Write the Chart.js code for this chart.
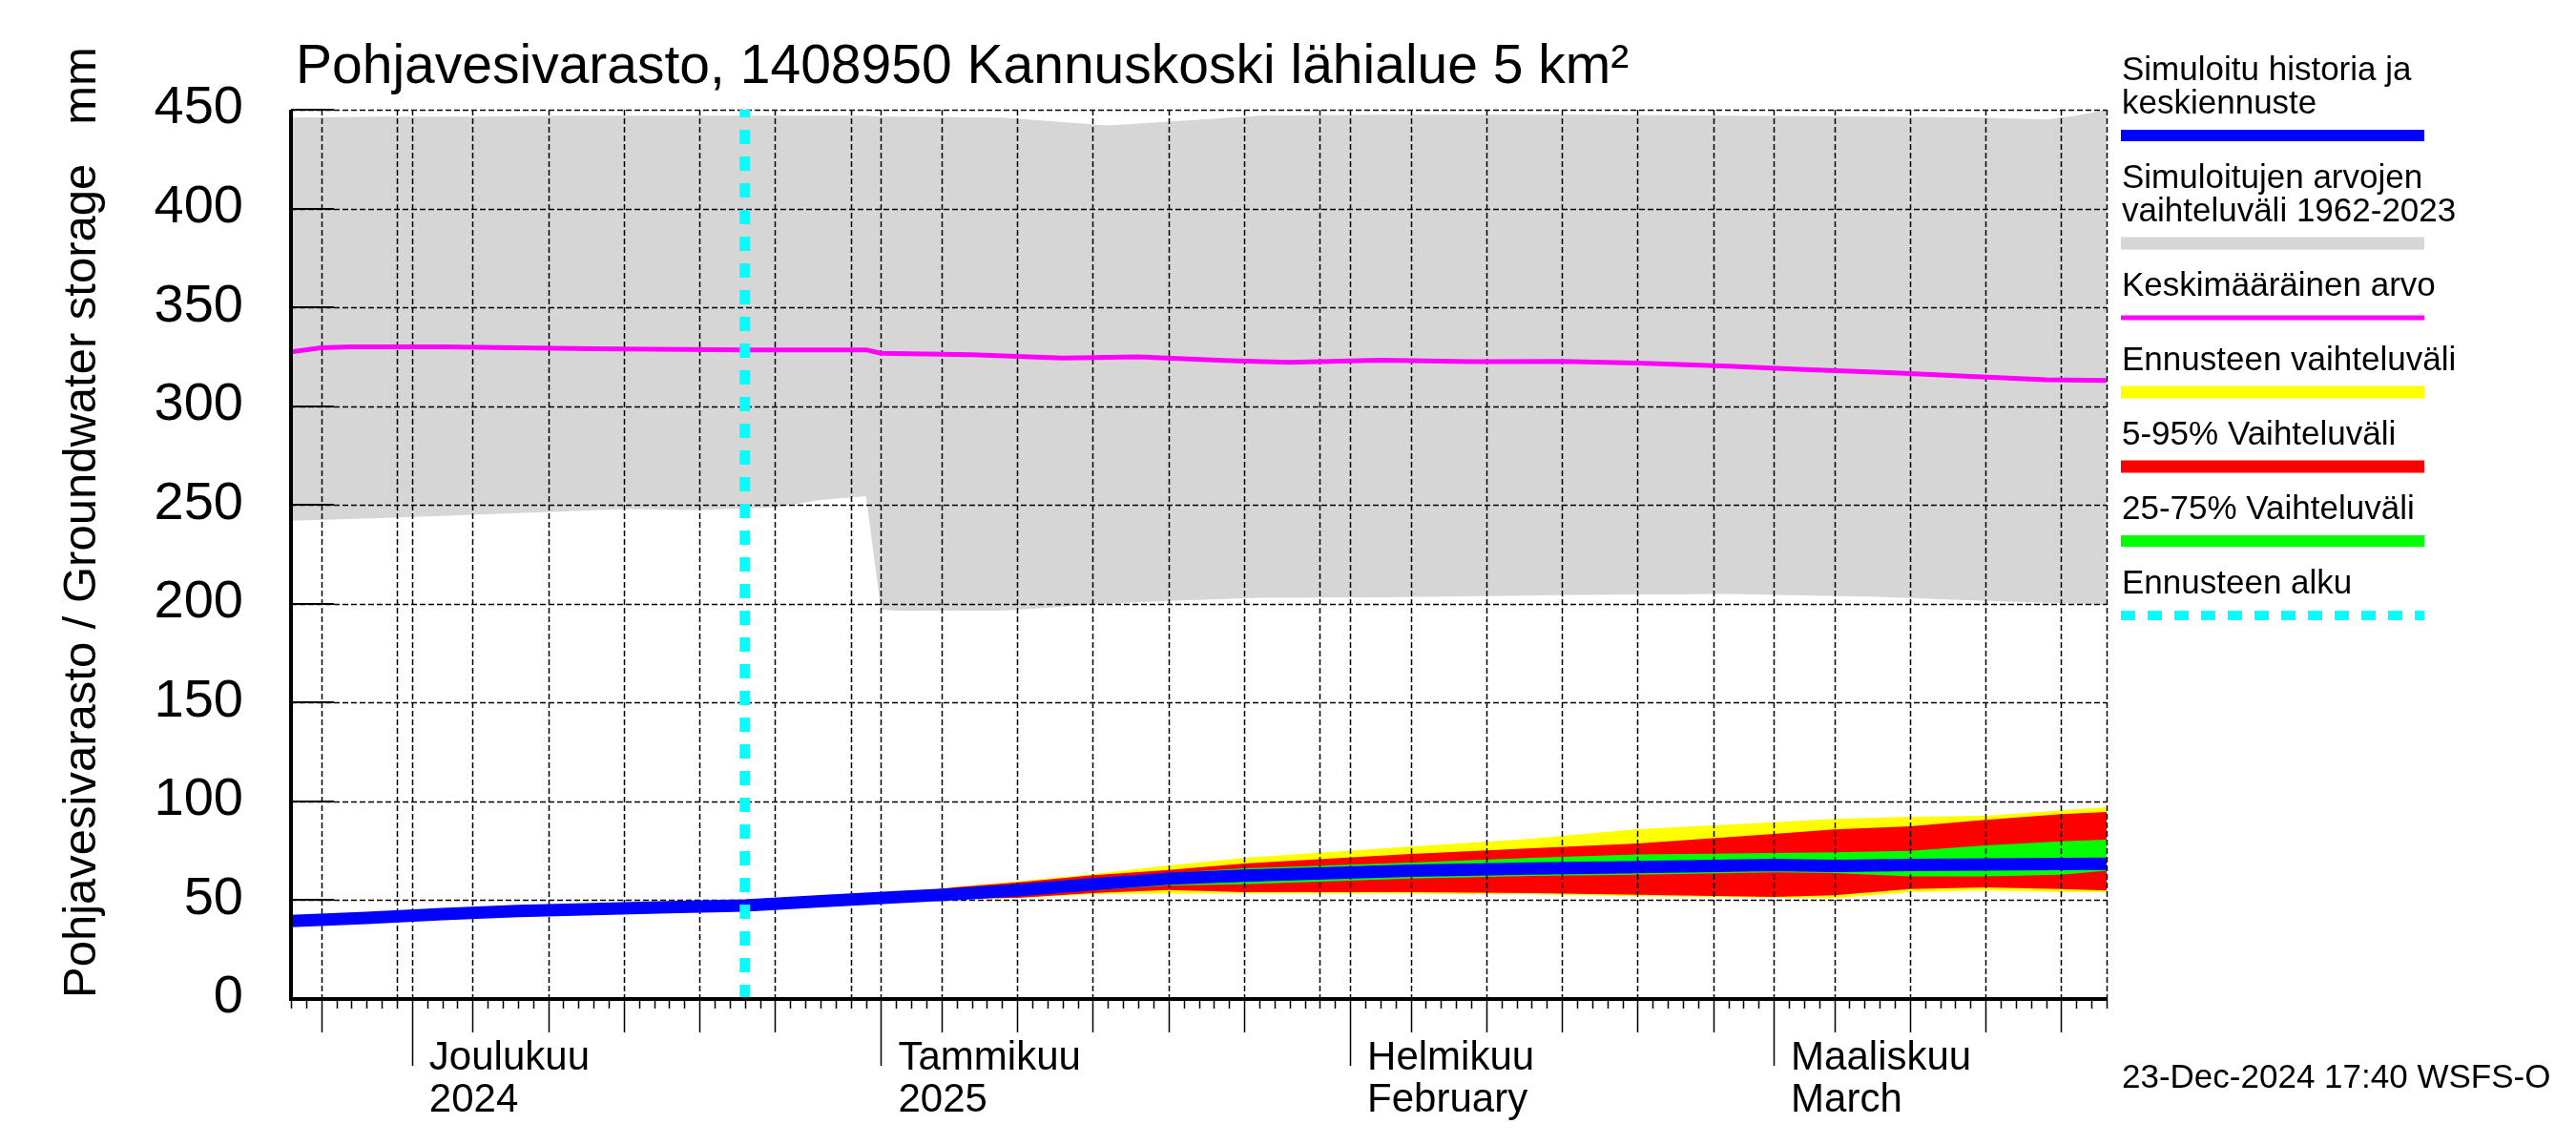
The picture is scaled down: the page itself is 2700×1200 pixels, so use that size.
<!DOCTYPE html>
<html>
<head>
<meta charset="utf-8">
<script src="https://cdn.jsdelivr.net/npm/chart.js@4.4.1/dist/chart.umd.min.js"></script>
<style>
  html, body { margin: 0; padding: 0; background: #fff; }
  #wrap { width: 2700px; height: 1200px; }
</style>
</head>
<body>
<div id="wrap"><canvas id="chart" width="2700" height="1200"></canvas></div>
<script>
// x-arvot ovat päiviä alkaen 23.11.2024 (päivä 0) ... 23.3.2025 (päivä 120)
const startDate = Date.UTC(2024, 10, 23);
const lastDay = 120;
const forecastStart = 30; // 23.12.2024

// Simuloitujen arvojen vaihteluväli 1962-2023
const rangeDays = [0, 6, 12, 18, 22, 27, 32, 35, 38, 39, 40, 47, 54, 58, 64, 72, 80, 85, 95, 105, 112, 116, 118, 120];
const rangeMax  = [446, 446.5, 446.5, 447, 447, 447, 447, 447, 447, 446.5, 446.5, 446, 442, 444, 447, 447.5, 447.5, 447.5, 447, 446.5, 446, 445, 447, 450];
const rangeMin  = [242, 243.4, 245, 246.7, 247.9, 247.4, 248.8, 252.5, 254.5, 197, 196.5, 196.5, 200, 201.5, 203, 203.3, 204, 204.5, 205, 203.5, 201.5, 200.5, 200, 199.5];

// Keskimääräinen arvo
const meanDays   = [0, 2, 4, 10, 20, 30, 38, 39, 45, 51, 56, 62, 66, 72, 78, 84, 89, 95, 100, 106, 111, 116, 120];
const meanValues = [327.5, 329.5, 330, 330, 329, 328.5, 328.5, 326.8, 326, 324.4, 325, 323, 322.2, 323.2, 322.5, 322.7, 321.8, 320.2, 318.5, 316.8, 315, 313.4, 313];

// Simuloitu historia
const histDays   = [0, 5, 10, 15, 20, 25];
const histValues = [39.5, 41, 43, 44.5, 45.5, 46.5];

// Ennuste
const fcDays    = [30, 35, 40, 44, 48, 53, 58, 63, 74, 82, 89, 98, 102, 107, 112, 117, 120];
const fcMedian  = [47.3, 49.5, 51.5, 53.1, 55, 58.1, 60.9, 62.4, 64.9, 66.0, 66.8, 67.8, 67.4, 67.8, 68.1, 68.3, 68.4];
const fcMax     = [47.3, 50.3, 53.5, 56.8, 59.5, 63.3, 67.6, 71.5, 77.1, 81.1, 85.9, 89.5, 91.1, 92.2, 92.7, 95.5, 97];
const fcMin     = [47.3, 48.6, 50, 50.5, 51, 53, 53.3, 53.3, 53.3, 53.0, 52.0, 51.3, 50.9, 54.1, 54.9, 54.1, 54.1];
const fcP95     = [47.3, 50.1, 53.2, 56.6, 59, 62.6, 65.3, 68.6, 73.4, 76.3, 78.7, 83.5, 85.8, 87.4, 90.6, 93.5, 94.6];
const fcP5      = [47.3, 48.8, 50.2, 50.8, 51.2, 53.6, 55.2, 54.1, 54.1, 53.6, 52.8, 51.7, 52.5, 55.7, 56.5, 55.7, 54.9];
const fcP75     = [47.3, 49.9, 52.5, 55.5, 58, 61, 63.7, 66.2, 69.0, 71.5, 73.1, 73.9, 74.2, 75.0, 77.7, 79.8, 80.6];
const fcP25     = [47.3, 49.2, 50.8, 51.5, 53, 55, 57.5, 58.1, 61.0, 62.3, 62.9, 64.1, 63.7, 62.1, 62.1, 62.9, 65.0];

// Akselin tekstit
const monthDays  = [8, 39, 70, 98];
const monthNames = ['Joulukuu', 'Tammikuu', 'Helmikuu', 'Maaliskuu'];
const monthSub   = ['2024', '2025', 'February', 'March'];
const gridDom    = [1, 5, 10, 15, 20, 25, 30];
const midTickDom = [5, 10, 15, 20, 25];

const titleText  = 'Pohjavesivarasto, 1408950 Kannuskoski lähialue 5 km²';
const yTitleText = 'Pohjavesivarasto / Groundwater storage   mm';
const stampText  = '23-Dec-2024 17:40 WSFS-O';

const legendLabels = [
    ['Simuloitu historia ja', 'keskiennuste'],
    ['Simuloitujen arvojen', 'vaihteluväli 1962-2023'],
    ['Keskimääräinen arvo'],
    ['Ennusteen vaihteluväli'],
    ['5-95% Vaihteluväli'],
    ['25-75% Vaihteluväli'],
    ['Ennusteen alku']
];
const legendColors = ['#0000ff', '#d6d6d6', '#ff00ff', '#ffff00', '#ff0000', '#00ff00', '#00ffff'];
const legendWidths = [12, 13, 5, 13, 13, 12, 10];

const FONT = '"Liberation Sans", Arial, Helvetica, sans-serif';
const MEAN_INDEX = 8;

function pts(days, vals) {
    return days.map((d, i) => ({ x: d, y: vals[i] }));
}

function dayOfMonth(d) {
    return new Date(startDate + d * 86400000).getUTCDate();
}

const blueDays = histDays.concat(fcDays);
const blueValues = histValues.concat(fcMedian);

function band(label, data, color, fill) {
    return {
        label, data, fill,
        backgroundColor: color,
        borderColor: 'rgba(0,0,0,0)',
        borderWidth: 0,
        pointRadius: 0,
        tension: 0
    };
}

const datasets = [
    Object.assign(band('range max', pts(rangeDays, rangeMax), '#d6d6d6', '+1'), { order: 10 }),
    Object.assign(band('range min', pts(rangeDays, rangeMin), '#d6d6d6', false), { order: 9 }),
    Object.assign(band('fc max', pts(fcDays, fcMax), '#ffff00', '+1'), { order: 8 }),
    Object.assign(band('fc min', pts(fcDays, fcMin), '#ffff00', false), { order: 7 }),
    Object.assign(band('fc 95', pts(fcDays, fcP95), '#ff0000', '+1'), { order: 6 }),
    Object.assign(band('fc 5', pts(fcDays, fcP5), '#ff0000', false), { order: 5 }),
    Object.assign(band('fc 75', pts(fcDays, fcP75), '#00ff00', '+1'), { order: 4 }),
    Object.assign(band('fc 25', pts(fcDays, fcP25), '#00ff00', false), { order: 3 }),
    {
        label: 'mean', data: pts(meanDays, meanValues), order: 2,
        borderColor: '#ff00ff', borderWidth: 5, pointRadius: 0, tension: 0, fill: false
    },
    {
        label: 'median', data: pts(blueDays, blueValues), order: 1,
        borderColor: '#0000ff', borderWidth: 13, pointRadius: 0, tension: 0, fill: false
    },
    {
        label: 'forecast start', data: [{ x: forecastStart, y: 0 }, { x: forecastStart, y: 450 }], order: 0,
        borderColor: '#00ffff', borderWidth: 11, borderDash: [15, 13], pointRadius: 0, fill: false
    }
];

// Katkoviivaruudukko täyttöjen päälle, viivojen alle
const gridPlugin = {
    id: 'gridLines',
    beforeDatasetDraw(chart, args) {
        if (args.index !== MEAN_INDEX) return;
        const { ctx, chartArea: a, scales: { x, y } } = chart;
        ctx.save();
        ctx.strokeStyle = '#000';
        ctx.lineWidth = 1.5;
        ctx.setLineDash([6, 3]);
        ctx.beginPath();
        y.ticks.forEach(t => {
            if (t.value === 0) return;
            const py = Math.round(y.getPixelForValue(t.value)) + 0.5;
            ctx.moveTo(a.left, py);
            ctx.lineTo(a.right, py);
        });
        for (let d = 1; d <= lastDay; d++) {
            if (gridDom.includes(dayOfMonth(d)) || d === lastDay) {
                const px = Math.round(x.getPixelForValue(d)) + 0.5;
                ctx.moveTo(px, a.top);
                ctx.lineTo(px, a.bottom);
            }
        }
        ctx.stroke();
        ctx.restore();
    }
};

const axesPlugin = {
    id: 'axesText',
    afterDatasetsDraw(chart) {
        const { ctx, chartArea: a, scales: { x, y } } = chart;
        ctx.save();
        ctx.strokeStyle = '#000';
        ctx.setLineDash([]);

        // y-akselin sisäänpäin olevat tikit
        ctx.lineWidth = 2;
        ctx.beginPath();
        y.ticks.forEach(t => {
            const py = Math.round(y.getPixelForValue(t.value));
            ctx.moveTo(a.left, py);
            ctx.lineTo(a.left + 45, py);
        });
        ctx.stroke();

        // x-akselin tikit
        ctx.lineWidth = 1.5;
        ctx.beginPath();
        for (let d = 0; d <= lastDay; d++) {
            const dom = dayOfMonth(d);
            const len = dom === 1 ? 70 : (midTickDom.includes(dom) ? 35 : 10);
            const px = Math.round(x.getPixelForValue(d)) + 0.5;
            ctx.moveTo(px, a.bottom);
            ctx.lineTo(px, a.bottom + len);
        }
        ctx.stroke();

        // akselit
        ctx.lineWidth = 4;
        ctx.beginPath();
        ctx.moveTo(a.left, a.top);
        ctx.lineTo(a.left, a.bottom + 2);
        ctx.moveTo(a.left - 2, a.bottom);
        ctx.lineTo(a.right, a.bottom);
        ctx.stroke();

        // kuukaudet
        ctx.fillStyle = '#000';
        ctx.font = `42px ${FONT}`;
        ctx.textAlign = 'left';
        ctx.textBaseline = 'alphabetic';
        monthDays.forEach((d, i) => {
            const px = x.getPixelForValue(d) + 18;
            ctx.fillText(monthNames[i], px, 1121);
            ctx.fillText(monthSub[i], px, 1165);
        });
        ctx.restore();
    },
    afterDraw(chart) {
        const { ctx } = chart;
        ctx.save();
        ctx.fillStyle = '#000';
        ctx.textAlign = 'left';
        ctx.textBaseline = 'alphabetic';

        ctx.font = `57px ${FONT}`;
        ctx.fillText(titleText, 310, 87);

        ctx.font = `35px ${FONT}`;
        ctx.fillText(stampText, 2224, 1140);

        // y-akselin otsikko
        ctx.save();
        ctx.translate(100, 1046);
        ctx.rotate(-Math.PI / 2);
        ctx.font = `49px ${FONT}`;
        ctx.fillText(yTitleText, 0, 0);
        ctx.restore();

        // selite
        let yb = 84;
        ctx.font = `35px ${FONT}`;
        legendLabels.forEach((lines, i) => {
            lines.forEach((t, j) => ctx.fillText(t, 2224, yb + j * 35));
            const barY = yb + (lines.length - 1) * 35 + 23;
            ctx.strokeStyle = legendColors[i];
            ctx.lineWidth = legendWidths[i];
            ctx.lineCap = 'butt';
            ctx.setLineDash(i === legendLabels.length - 1 ? [15, 13] : []);
            ctx.beginPath();
            ctx.moveTo(2223, barY);
            ctx.lineTo(2541, barY);
            ctx.stroke();
            yb = barY + 55;
        });
        ctx.restore();
    }
};

new Chart(document.getElementById('chart'), {
    type: 'line',
    data: { datasets },
    options: {
        responsive: false,
        animation: false,
        devicePixelRatio: 1,
        layout: { padding: { left: 0, right: 492, top: 115, bottom: 153 } },
        plugins: { legend: { display: false }, tooltip: { enabled: false } },
        scales: {
            x: { type: 'linear', min: 0, max: lastDay, display: false },
            y: {
                min: 0, max: 450,
                ticks: {
                    stepSize: 50, color: '#000', padding: 50, labelOffset: -1,
                    font: { family: FONT, size: 56 }
                },
                grid: { display: false, drawTicks: false },
                border: { display: false },
                afterFit(scale) { scale.width = 305; }
            }
        }
    },
    plugins: [gridPlugin, axesPlugin]
});
</script>
</body>
</html>
